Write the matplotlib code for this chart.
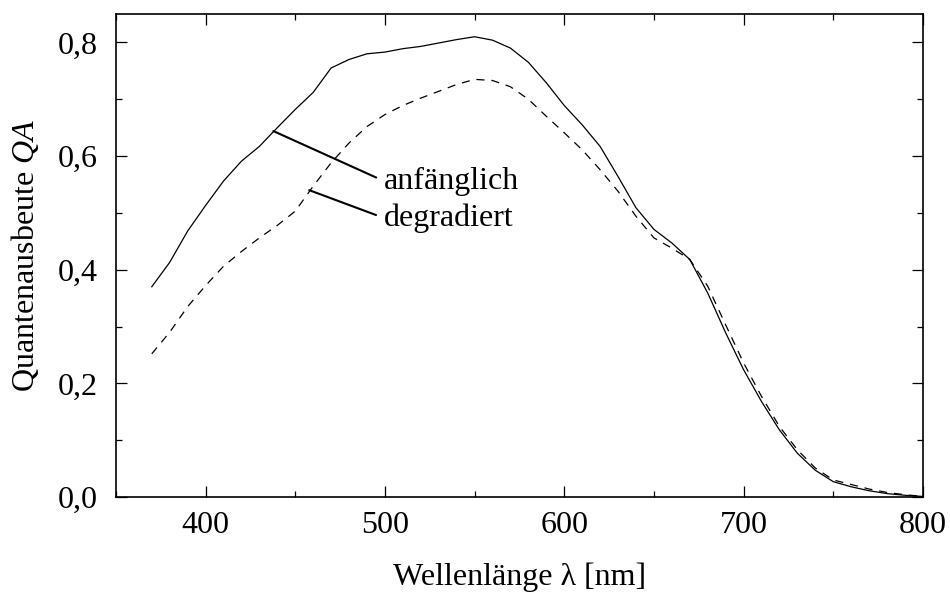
import matplotlib
matplotlib.use('Agg')
import matplotlib.pyplot as plt
from matplotlib.ticker import MultipleLocator

# wavelength grid [nm] and quantum efficiency
wavelength = [370, 380, 390, 400, 410, 420, 430, 440, 450, 460, 470, 480, 490,
              500, 510, 520, 530, 540, 550, 560, 570, 580, 590, 600, 610, 620,
              630, 640, 650, 660, 670, 680, 690, 700, 710, 720, 730, 740, 750,
              760, 770, 780, 790, 800]
qa_initial = [0.370, 0.413, 0.468, 0.513, 0.556, 0.591, 0.617, 0.650, 0.682, 0.712,
              0.755, 0.770, 0.780, 0.783, 0.789, 0.793, 0.799, 0.805, 0.810, 0.804,
              0.790, 0.765, 0.729, 0.689, 0.655, 0.617, 0.564, 0.509, 0.471, 0.447,
              0.418, 0.359, 0.289, 0.224, 0.168, 0.118, 0.077, 0.047, 0.027, 0.018,
              0.011, 0.006, 0.003, 0.001]
qa_degraded = [0.252, 0.290, 0.335, 0.372, 0.406, 0.432, 0.456, 0.478, 0.503, 0.547,
               0.588, 0.623, 0.652, 0.673, 0.689, 0.702, 0.714, 0.726, 0.735, 0.733,
               0.722, 0.700, 0.670, 0.641, 0.611, 0.576, 0.538, 0.494, 0.456, 0.438,
               0.418, 0.371, 0.303, 0.236, 0.177, 0.124, 0.083, 0.051, 0.030, 0.022,
               0.014, 0.008, 0.004, 0.001]

xticks = [400, 500, 600, 700, 800]
yticks = [0.0, 0.2, 0.4, 0.6, 0.8]
ytick_labels = ['0,0', '0,2', '0,4', '0,6', '0,8']

plt.rcParams['font.family'] = ['Liberation Serif', 'DejaVu Serif']
plt.rcParams['mathtext.fontset'] = 'custom'
plt.rcParams['mathtext.rm'] = 'Liberation Serif'
plt.rcParams['mathtext.it'] = 'Liberation Serif:italic'

fig = plt.figure(figsize=(9.5, 5.94), dpi=100)
ax = fig.add_axes([0.122, 0.1633, 0.8495, 0.8131])

ax.plot(wavelength, qa_initial, color='black', lw=0.9)
ax.plot(wavelength, qa_degraded, color='black', lw=0.9, linestyle=(0, (6.5, 5.5)))

ax.set_xlim(350, 800)
ax.set_ylim(0, 0.85)
ax.set_xticks(xticks)
ax.set_yticks(yticks)
ax.set_yticklabels(ytick_labels)
ax.xaxis.set_minor_locator(MultipleLocator(50))
ax.yaxis.set_minor_locator(MultipleLocator(0.1))
ax.tick_params(which='both', direction='in', top=True, right=True, labelsize=23, width=0.9)
ax.tick_params(which='major', length=8)
ax.tick_params(which='minor', length=4)
ax.tick_params(axis='x', which='major', pad=10)
ax.tick_params(axis='y', which='major', pad=13)
for sp in ax.spines.values():
    sp.set_linewidth(1.2)

ax.set_xlabel('Wellenlänge λ [nm]', fontsize=23, labelpad=16)
ax.set_ylabel('Quantenausbeute $QA$', fontsize=23, labelpad=12)

arrow = dict(arrowstyle='-', lw=1.5, color='black', shrinkA=4, shrinkB=0, relpos=(0, 0.5))
ax.annotate('anfänglich', xy=(437.8, 0.644), xytext=(499.5, 0.556), fontsize=23,
            va='center', ha='left', arrowprops=arrow)
ax.annotate('degradiert', xy=(457.8, 0.540), xytext=(499.5, 0.491), fontsize=23,
            va='center', ha='left', arrowprops=arrow)

fig.savefig('out.png', dpi=100)
